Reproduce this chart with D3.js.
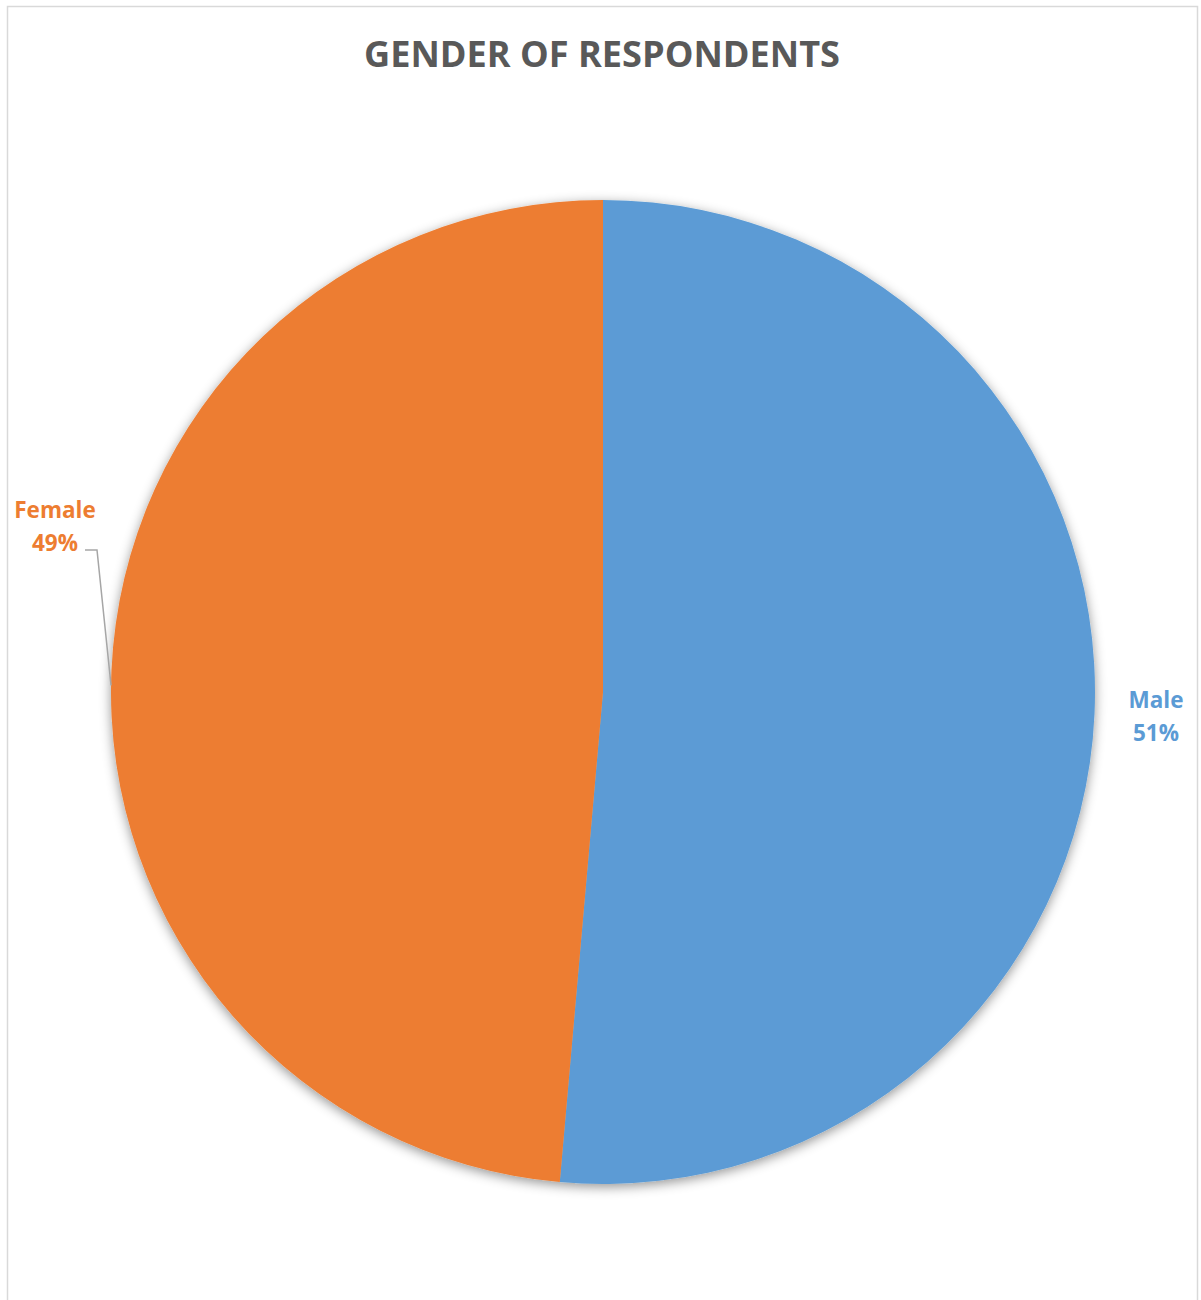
<!DOCTYPE html>
<html>
<head>
<meta charset="utf-8">
<script src="https://cdn.jsdelivr.net/npm/d3@7"></script>
<style>
  html, body { margin: 0; padding: 0; background: #fff; }
  svg { display: block; }
</style>
</head>
<body>
<script>
// Gender split of survey respondents (shares, in percent)
const categories = ["Male", "Female"];
const shares = [51.4, 48.6];
const colors = ["#5B9BD5", "#ED7D31"];
const title = "GENDER OF RESPONDENTS";

const W = 1201, H = 1300;
const cx = 603, cy = 692, R = 492;

const svg = d3.select("body").append("svg")
  .attr("width", W).attr("height", H);

// chart frame
svg.append("rect")
  .attr("x", 7.5).attr("y", 6.5)
  .attr("width", 1190).attr("height", 1310)
  .attr("fill", "#fff").attr("stroke", "#D9D9D9").attr("stroke-width", 1.5);

// soft shadow under the pie
const defs = svg.append("defs");
const f = defs.append("filter").attr("id", "pieShadow")
  .attr("x", "-10%").attr("y", "-10%").attr("width", "120%").attr("height", "120%");
f.append("feDropShadow")
  .attr("dx", 0).attr("dy", 3).attr("stdDeviation", 6)
  .attr("flood-color", "#000").attr("flood-opacity", 0.42);

// title
svg.append("text")
  .attr("x", 602).attr("y", 67)
  .attr("text-anchor", "middle")
  .attr("font-family", "'Open Sans', sans-serif")
  .attr("font-weight", 700)
  .attr("font-size", 36)
  .attr("fill", "#595959")
  .attr("textLength", 476).attr("lengthAdjust", "spacingAndGlyphs")
  .text(title);

const data = categories.map((c, i) => ({ name: c, value: shares[i], color: colors[i] }));
const total = d3.sum(shares);

const pie = d3.pie().value(d => d.value).sort(null);
const arc = d3.arc().innerRadius(0).outerRadius(R);
const arcs = pie(data);

const g = svg.append("g").attr("transform", `translate(${cx},${cy})`);
g.append("g").attr("filter", "url(#pieShadow)")
  .selectAll("path").data(arcs).join("path")
  .attr("d", arc)
  .attr("fill", d => d.data.color);

const pct = d3.format(".0%");

// data labels placed outside the pie, matching each slice colour
const labelPos = {
  Male:   { x: 1156, y: 708 },
  Female: { x: 55,   y: 518 }
};

arcs.forEach(a => {
  const p = labelPos[a.data.name];
  const t = svg.append("text")
    .attr("text-anchor", "middle")
    .attr("font-family", "'Open Sans', sans-serif")
    .attr("font-weight", 700)
    .attr("font-size", 22.5)
    .attr("fill", a.data.color);
  t.append("tspan").attr("x", p.x).attr("y", p.y).text(a.data.name);
  t.append("tspan").attr("x", p.x).attr("y", p.y + 33).text(pct(a.data.value / total));
});

// leader line for the Female label
const fem = arcs.find(a => a.data.name === "Female");
const edgeAngle = fem.startAngle + (fem.endAngle - fem.startAngle) * 0.49;
const ex = cx + R * Math.sin(edgeAngle);
const ey = cy - R * Math.cos(edgeAngle);
svg.append("path")
  .attr("d", d3.line()([[85, 550], [97, 550], [ex, ey]]))
  .attr("fill", "none")
  .attr("stroke", "#A6A6A6")
  .attr("stroke-width", 1.5);
</script>
</body>
</html>
